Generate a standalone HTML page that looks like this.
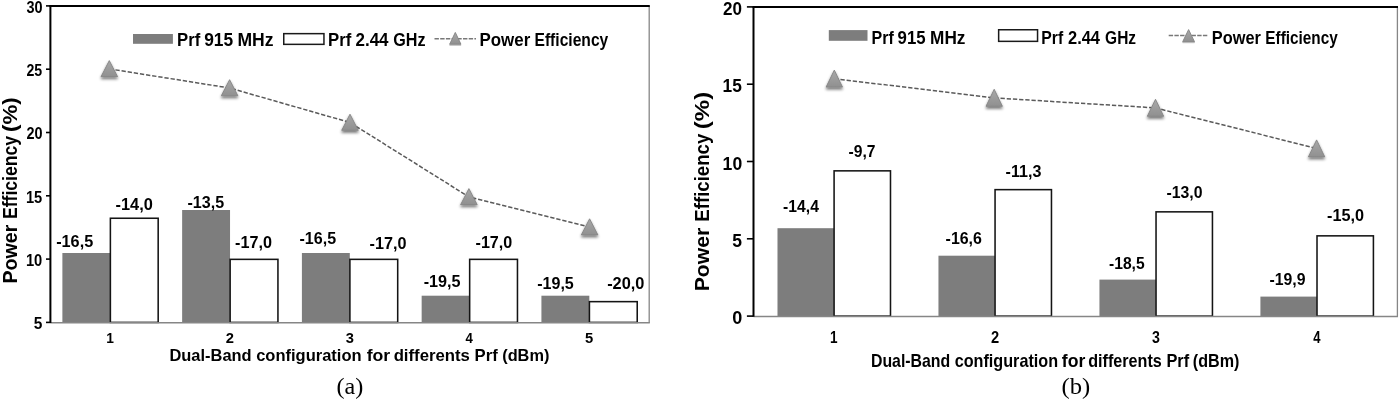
<!DOCTYPE html>
<html><head><meta charset="utf-8"><title>Power Efficiency</title>
<style>html,body{margin:0;padding:0;background:#fff;}body{width:1400px;height:400px;overflow:hidden;font-family:"Liberation Sans",sans-serif;}svg{display:block;will-change:transform;}text{fill:#000;}</style>
</head><body>
<svg width="1400" height="400" viewBox="0 0 1400 400">
<defs>
<linearGradient id="tg" x1="0" y1="0" x2="0" y2="1"><stop offset="0" stop-color="#a8a8a8"/><stop offset="1" stop-color="#909090"/></linearGradient>
<filter id="sh" x="-40%" y="-40%" width="180%" height="200%"><feGaussianBlur in="SourceAlpha" stdDeviation="1.4"/><feOffset dx="0" dy="2.2" result="o"/><feComponentTransfer><feFuncA type="linear" slope="0.55"/></feComponentTransfer><feMerge><feMergeNode/><feMergeNode in="SourceGraphic"/></feMerge></filter>
<filter id="shs" x="-40%" y="-40%" width="180%" height="200%"><feGaussianBlur in="SourceAlpha" stdDeviation="0.6"/><feOffset dx="0" dy="0.8" result="o"/><feComponentTransfer><feFuncA type="linear" slope="0.3"/></feComponentTransfer><feMerge><feMergeNode/><feMergeNode in="SourceGraphic"/></feMerge></filter>
</defs>
<rect x="0" y="0" width="1400" height="400" fill="#fff"/>
<g id="chart-a">
<line x1="649.2" y1="5.9" x2="649.2" y2="323.0" stroke="#868686" stroke-width="1.3"/>
<rect x="62.38" y="253.00" width="47.90" height="69.40" fill="#7d7d7d"/>
<rect x="110.38" y="218.25" width="47.80" height="104.15" fill="#fff" stroke="#141414" stroke-width="1.55"/>
<rect x="182.14" y="210.00" width="47.90" height="112.40" fill="#7d7d7d"/>
<rect x="230.14" y="259.35" width="47.80" height="63.05" fill="#fff" stroke="#141414" stroke-width="1.55"/>
<rect x="301.90" y="253.00" width="47.90" height="69.40" fill="#7d7d7d"/>
<rect x="349.90" y="259.35" width="47.80" height="63.05" fill="#fff" stroke="#141414" stroke-width="1.55"/>
<rect x="421.66" y="295.70" width="47.90" height="26.70" fill="#7d7d7d"/>
<rect x="469.66" y="259.35" width="47.80" height="63.05" fill="#fff" stroke="#141414" stroke-width="1.55"/>
<rect x="541.42" y="295.70" width="47.90" height="26.70" fill="#7d7d7d"/>
<rect x="589.42" y="301.65" width="47.80" height="20.75" fill="#fff" stroke="#141414" stroke-width="1.55"/>
<line x1="50.4" y1="322.7" x2="649.8000000000001" y2="322.7" stroke="#868686" stroke-width="1.5"/>
<line x1="49.5" y1="5.9" x2="649.8000000000001" y2="5.9" stroke="#000" stroke-width="2"/>
<line x1="50.4" y1="5.9" x2="50.4" y2="323.0" stroke="#000" stroke-width="2"/>
<line x1="46.0" y1="5.90" x2="50.4" y2="5.90" stroke="#000" stroke-width="1.6"/>
<line x1="46.0" y1="69.20" x2="50.4" y2="69.20" stroke="#000" stroke-width="1.6"/>
<line x1="46.0" y1="132.50" x2="50.4" y2="132.50" stroke="#000" stroke-width="1.6"/>
<line x1="46.0" y1="195.80" x2="50.4" y2="195.80" stroke="#000" stroke-width="1.6"/>
<line x1="46.0" y1="259.10" x2="50.4" y2="259.10" stroke="#000" stroke-width="1.6"/>
<line x1="46.0" y1="322.40" x2="50.4" y2="322.40" stroke="#000" stroke-width="1.6"/>
<polyline points="109.30,68.90 229.60,88.00 350.00,122.50 468.90,196.90 589.60,227.10" fill="none" stroke="#5a5a5a" stroke-width="1.5" stroke-dasharray="4.3 1.9"/>
<polygon points="109.3,60.6 117.6,76.7 101.0,76.7" fill="url(#tg)" stroke="#858585" stroke-width="0.9" stroke-linejoin="round" filter="url(#sh)"/>
<polygon points="229.6,79.7 237.9,95.8 221.29999999999998,95.8" fill="url(#tg)" stroke="#858585" stroke-width="0.9" stroke-linejoin="round" filter="url(#sh)"/>
<polygon points="350.0,114.2 358.3,130.3 341.7,130.3" fill="url(#tg)" stroke="#858585" stroke-width="0.9" stroke-linejoin="round" filter="url(#sh)"/>
<polygon points="468.9,188.6 477.2,204.7 460.59999999999997,204.7" fill="url(#tg)" stroke="#858585" stroke-width="0.9" stroke-linejoin="round" filter="url(#sh)"/>
<polygon points="589.6,218.8 597.9,234.9 581.3000000000001,234.9" fill="url(#tg)" stroke="#858585" stroke-width="0.9" stroke-linejoin="round" filter="url(#sh)"/>
<rect x="133" y="34" width="39.90" height="9.80" fill="#7d7d7d"/>
<rect x="283.75" y="33.65" width="40.20" height="10.70" fill="#fff" stroke="#1a1a1a" stroke-width="1.5"/>
<line x1="434.5" y1="38.7" x2="476" y2="38.7" stroke="#787878" stroke-width="1.4" stroke-dasharray="4.4 1.3"/>
<polygon points="455.3,32.4 460.95,44.2 449.65000000000003,44.2" fill="url(#tg)" stroke="#858585" stroke-width="0.9" stroke-linejoin="round" filter="url(#shs)"/>
<text x="177.05" y="46.4" font-size="17.7" font-weight="bold" font-family='"Liberation Sans", sans-serif' textLength="23.2" lengthAdjust="spacingAndGlyphs">Prf</text>
<text x="204.15" y="46.4" font-size="17.7" font-weight="bold" font-family='"Liberation Sans", sans-serif' textLength="29.0" lengthAdjust="spacingAndGlyphs">915</text>
<text x="237.5" y="46.4" font-size="17.7" font-weight="bold" font-family='"Liberation Sans", sans-serif' textLength="36.07" lengthAdjust="spacingAndGlyphs">MHz</text>
<text x="328.0" y="46.4" font-size="17.7" font-weight="bold" font-family='"Liberation Sans", sans-serif' textLength="23.28" lengthAdjust="spacingAndGlyphs">Prf</text>
<text x="355.5" y="46.4" font-size="17.7" font-weight="bold" font-family='"Liberation Sans", sans-serif' textLength="33.01" lengthAdjust="spacingAndGlyphs">2.44</text>
<text x="393.25" y="46.4" font-size="17.7" font-weight="bold" font-family='"Liberation Sans", sans-serif' textLength="32.29" lengthAdjust="spacingAndGlyphs">GHz</text>
<text x="479.5" y="46.4" font-size="17.7" font-weight="bold" font-family='"Liberation Sans", sans-serif' textLength="50.78" lengthAdjust="spacingAndGlyphs">Power</text>
<text x="534.5" y="46.4" font-size="17.7" font-weight="bold" font-family='"Liberation Sans", sans-serif' textLength="73.77" lengthAdjust="spacingAndGlyphs">Efficiency</text>
<text x="169.4" y="360.8" font-size="16.7" font-weight="bold" font-family='"Liberation Sans", sans-serif' textLength="82.25" lengthAdjust="spacingAndGlyphs">Dual-Band</text>
<text x="256.2" y="360.8" font-size="16.7" font-weight="bold" font-family='"Liberation Sans", sans-serif' textLength="105.42" lengthAdjust="spacingAndGlyphs">configuration</text>
<text x="366.7" y="360.8" font-size="16.7" font-weight="bold" font-family='"Liberation Sans", sans-serif' textLength="23.56" lengthAdjust="spacingAndGlyphs">for</text>
<text x="393.65" y="360.8" font-size="16.7" font-weight="bold" font-family='"Liberation Sans", sans-serif' textLength="76.28" lengthAdjust="spacingAndGlyphs">differents</text>
<text x="474.6" y="360.8" font-size="16.7" font-weight="bold" font-family='"Liberation Sans", sans-serif' textLength="23.16" lengthAdjust="spacingAndGlyphs">Prf</text>
<text x="502.2" y="360.8" font-size="16.7" font-weight="bold" font-family='"Liberation Sans", sans-serif' textLength="47.17" lengthAdjust="spacingAndGlyphs">(dBm)</text>
<text transform="translate(17.25,283.6) rotate(-90)" font-size="20.1" font-weight="bold" font-family='"Liberation Sans", sans-serif' textLength="58.89" lengthAdjust="spacingAndGlyphs">Power</text>
<text transform="translate(17.25,219.0) rotate(-90)" font-size="20.1" font-weight="bold" font-family='"Liberation Sans", sans-serif' textLength="82.92" lengthAdjust="spacingAndGlyphs">Efficiency</text>
<text transform="translate(17.25,132.0) rotate(-90)" font-size="20.1" font-weight="bold" font-family='"Liberation Sans", sans-serif' textLength="34.63" lengthAdjust="spacingAndGlyphs">(%)</text>
<text x="336.5" y="393.5" font-size="23.3" font-weight="normal" font-family='"Liberation Serif", serif' textLength="26.87" lengthAdjust="spacingAndGlyphs">(a)</text>
<text x="56.15" y="246.7" font-size="16.4" font-weight="bold" font-family='"Liberation Sans", sans-serif' textLength="37.04" lengthAdjust="spacingAndGlyphs">-16,5</text>
<text x="115.55" y="210.1" font-size="16.4" font-weight="bold" font-family='"Liberation Sans", sans-serif' textLength="37.3" lengthAdjust="spacingAndGlyphs">-14,0</text>
<text x="187.5" y="208.3" font-size="16.4" font-weight="bold" font-family='"Liberation Sans", sans-serif' textLength="36.68" lengthAdjust="spacingAndGlyphs">-13,5</text>
<text x="235.1" y="247.9" font-size="16.4" font-weight="bold" font-family='"Liberation Sans", sans-serif' textLength="36.94" lengthAdjust="spacingAndGlyphs">-17,0</text>
<text x="299.5" y="244.1" font-size="16.4" font-weight="bold" font-family='"Liberation Sans", sans-serif' textLength="36.58" lengthAdjust="spacingAndGlyphs">-16,5</text>
<text x="369.5" y="249.1" font-size="16.4" font-weight="bold" font-family='"Liberation Sans", sans-serif' textLength="36.93" lengthAdjust="spacingAndGlyphs">-17,0</text>
<text x="423.7" y="287.1" font-size="16.4" font-weight="bold" font-family='"Liberation Sans", sans-serif' textLength="36.93" lengthAdjust="spacingAndGlyphs">-19,5</text>
<text x="475.5" y="247.8" font-size="16.4" font-weight="bold" font-family='"Liberation Sans", sans-serif' textLength="36.83" lengthAdjust="spacingAndGlyphs">-17,0</text>
<text x="537.15" y="288.8" font-size="16.4" font-weight="bold" font-family='"Liberation Sans", sans-serif' textLength="36.65" lengthAdjust="spacingAndGlyphs">-19,5</text>
<text x="607.15" y="288.8" font-size="16.4" font-weight="bold" font-family='"Liberation Sans", sans-serif' textLength="37.34" lengthAdjust="spacingAndGlyphs">-20,0</text>
<text x="26.4" y="12.9" font-size="15.6" font-weight="bold" font-family='"Liberation Sans", sans-serif' textLength="16.1" lengthAdjust="spacingAndGlyphs">30</text>
<text x="26.4" y="76.1" font-size="15.6" font-weight="bold" font-family='"Liberation Sans", sans-serif' textLength="15.8" lengthAdjust="spacingAndGlyphs">25</text>
<text x="26.4" y="139.4" font-size="15.6" font-weight="bold" font-family='"Liberation Sans", sans-serif' textLength="16.09" lengthAdjust="spacingAndGlyphs">20</text>
<text x="25.9" y="202.8" font-size="15.6" font-weight="bold" font-family='"Liberation Sans", sans-serif' textLength="16.35" lengthAdjust="spacingAndGlyphs">15</text>
<text x="25.9" y="266.1" font-size="15.6" font-weight="bold" font-family='"Liberation Sans", sans-serif' textLength="16.39" lengthAdjust="spacingAndGlyphs">10</text>
<text x="33.7" y="329.4" font-size="15.6" font-weight="bold" font-family='"Liberation Sans", sans-serif' textLength="8.62" lengthAdjust="spacingAndGlyphs">5</text>
<text x="106.25" y="342.9" font-size="15.4" font-weight="bold" font-family='"Liberation Sans", sans-serif' textLength="7.66" lengthAdjust="spacingAndGlyphs">1</text>
<text x="225.8" y="342.9" font-size="15.4" font-weight="bold" font-family='"Liberation Sans", sans-serif' textLength="8.2" lengthAdjust="spacingAndGlyphs">2</text>
<text x="345.7" y="342.9" font-size="15.4" font-weight="bold" font-family='"Liberation Sans", sans-serif' textLength="8.19" lengthAdjust="spacingAndGlyphs">3</text>
<text x="465.5" y="342.9" font-size="15.4" font-weight="bold" font-family='"Liberation Sans", sans-serif' textLength="7.34" lengthAdjust="spacingAndGlyphs">4</text>
<text x="584.95" y="342.9" font-size="15.4" font-weight="bold" font-family='"Liberation Sans", sans-serif' textLength="8.24" lengthAdjust="spacingAndGlyphs">5</text>
</g>
<g id="chart-b">
<line x1="1397.4" y1="6.9" x2="1397.4" y2="316.70000000000005" stroke="#868686" stroke-width="1.3"/>
<rect x="777.49" y="228.20" width="56.50" height="87.90" fill="#7d7d7d"/>
<rect x="834.09" y="170.85" width="56.40" height="145.25" fill="#fff" stroke="#141414" stroke-width="1.55"/>
<rect x="938.46" y="255.70" width="56.50" height="60.40" fill="#7d7d7d"/>
<rect x="995.06" y="189.65" width="56.40" height="126.45" fill="#fff" stroke="#141414" stroke-width="1.55"/>
<rect x="1099.44" y="279.60" width="56.50" height="36.50" fill="#7d7d7d"/>
<rect x="1156.04" y="211.85" width="56.40" height="104.25" fill="#fff" stroke="#141414" stroke-width="1.55"/>
<rect x="1260.41" y="296.60" width="56.50" height="19.50" fill="#7d7d7d"/>
<rect x="1317.01" y="235.85" width="56.40" height="80.25" fill="#fff" stroke="#141414" stroke-width="1.55"/>
<line x1="753.5" y1="316.40000000000003" x2="1398.0" y2="316.40000000000003" stroke="#868686" stroke-width="1.5"/>
<line x1="752.6" y1="6.9" x2="1398.0" y2="6.9" stroke="#000" stroke-width="2"/>
<line x1="753.5" y1="6.9" x2="753.5" y2="316.70000000000005" stroke="#000" stroke-width="2"/>
<line x1="746.9" y1="6.90" x2="753.5" y2="6.90" stroke="#000" stroke-width="1.6"/>
<line x1="746.9" y1="84.20" x2="753.5" y2="84.20" stroke="#000" stroke-width="1.6"/>
<line x1="746.9" y1="161.50" x2="753.5" y2="161.50" stroke="#000" stroke-width="1.6"/>
<line x1="746.9" y1="238.80" x2="753.5" y2="238.80" stroke="#000" stroke-width="1.6"/>
<line x1="746.9" y1="316.10" x2="753.5" y2="316.10" stroke="#000" stroke-width="1.6"/>
<polyline points="834.30,78.70 994.20,97.90 1155.50,107.90 1316.60,148.50" fill="none" stroke="#5a5a5a" stroke-width="1.5" stroke-dasharray="4.3 1.9"/>
<polygon points="834.3,70.1 842.5,87.1 826.0999999999999,87.1" fill="url(#tg)" stroke="#858585" stroke-width="0.9" stroke-linejoin="round" filter="url(#sh)"/>
<polygon points="994.2,89.3 1002.4000000000001,106.3 986.0,106.3" fill="url(#tg)" stroke="#858585" stroke-width="0.9" stroke-linejoin="round" filter="url(#sh)"/>
<polygon points="1155.5,99.3 1163.7,116.3 1147.3,116.3" fill="url(#tg)" stroke="#858585" stroke-width="0.9" stroke-linejoin="round" filter="url(#sh)"/>
<polygon points="1316.6,139.9 1324.8,156.9 1308.3999999999999,156.9" fill="url(#tg)" stroke="#858585" stroke-width="0.9" stroke-linejoin="round" filter="url(#sh)"/>
<rect x="828.8" y="30.1" width="38.70" height="10.70" fill="#7d7d7d"/>
<rect x="998.65" y="29.75" width="38.90" height="11.60" fill="#fff" stroke="#1a1a1a" stroke-width="1.5"/>
<line x1="1168.7" y1="35.5" x2="1208.5" y2="35.5" stroke="#787878" stroke-width="1.4" stroke-dasharray="4.4 1.3"/>
<polygon points="1188.6,29.6 1194.5,41.7 1182.6999999999998,41.7" fill="url(#tg)" stroke="#858585" stroke-width="0.9" stroke-linejoin="round" filter="url(#shs)"/>
<text x="871.5" y="43.7" font-size="19" font-weight="bold" font-family='"Liberation Sans", sans-serif' textLength="22.24" lengthAdjust="spacingAndGlyphs">Prf</text>
<text x="897.6" y="43.7" font-size="19" font-weight="bold" font-family='"Liberation Sans", sans-serif' textLength="28.04" lengthAdjust="spacingAndGlyphs">915</text>
<text x="930.1" y="43.7" font-size="19" font-weight="bold" font-family='"Liberation Sans", sans-serif' textLength="35.38" lengthAdjust="spacingAndGlyphs">MHz</text>
<text x="1041.35" y="43.7" font-size="19" font-weight="bold" font-family='"Liberation Sans", sans-serif' textLength="21.9" lengthAdjust="spacingAndGlyphs">Prf</text>
<text x="1068.0" y="43.7" font-size="19" font-weight="bold" font-family='"Liberation Sans", sans-serif' textLength="32.01" lengthAdjust="spacingAndGlyphs">2.44</text>
<text x="1105.1" y="43.7" font-size="19" font-weight="bold" font-family='"Liberation Sans", sans-serif' textLength="30.96" lengthAdjust="spacingAndGlyphs">GHz</text>
<text x="1211.85" y="43.7" font-size="19" font-weight="bold" font-family='"Liberation Sans", sans-serif' textLength="49.02" lengthAdjust="spacingAndGlyphs">Power</text>
<text x="1265.35" y="43.7" font-size="19" font-weight="bold" font-family='"Liberation Sans", sans-serif' textLength="72.42" lengthAdjust="spacingAndGlyphs">Efficiency</text>
<text x="870.95" y="366.75" font-size="18.1" font-weight="bold" font-family='"Liberation Sans", sans-serif' textLength="79.25" lengthAdjust="spacingAndGlyphs">Dual-Band</text>
<text x="954.65" y="366.75" font-size="18.1" font-weight="bold" font-family='"Liberation Sans", sans-serif' textLength="103.42" lengthAdjust="spacingAndGlyphs">configuration</text>
<text x="1061.8" y="366.75" font-size="18.1" font-weight="bold" font-family='"Liberation Sans", sans-serif' textLength="23.48" lengthAdjust="spacingAndGlyphs">for</text>
<text x="1088.2" y="366.75" font-size="18.1" font-weight="bold" font-family='"Liberation Sans", sans-serif' textLength="73.62" lengthAdjust="spacingAndGlyphs">differents</text>
<text x="1166.45" y="366.75" font-size="18.1" font-weight="bold" font-family='"Liberation Sans", sans-serif' textLength="22.73" lengthAdjust="spacingAndGlyphs">Prf</text>
<text x="1192.8" y="366.75" font-size="18.1" font-weight="bold" font-family='"Liberation Sans", sans-serif' textLength="46.55" lengthAdjust="spacingAndGlyphs">(dBm)</text>
<text transform="translate(709.1,291.25) rotate(-90)" font-size="20.1" font-weight="bold" font-family='"Liberation Sans", sans-serif' textLength="63.54" lengthAdjust="spacingAndGlyphs">Power</text>
<text transform="translate(709.1,221.65) rotate(-90)" font-size="20.1" font-weight="bold" font-family='"Liberation Sans", sans-serif' textLength="87.92" lengthAdjust="spacingAndGlyphs">Efficiency</text>
<text transform="translate(709.1,129.25) rotate(-90)" font-size="20.1" font-weight="bold" font-family='"Liberation Sans", sans-serif' textLength="37.39" lengthAdjust="spacingAndGlyphs">(%)</text>
<text x="1061.6" y="393.7" font-size="23.3" font-weight="normal" font-family='"Liberation Serif", serif' textLength="28.67" lengthAdjust="spacingAndGlyphs">(b)</text>
<text x="783.1" y="212.1" font-size="17.4" font-weight="bold" font-family='"Liberation Sans", sans-serif' textLength="35.78" lengthAdjust="spacingAndGlyphs">-14,4</text>
<text x="848.6" y="157.3" font-size="17.4" font-weight="bold" font-family='"Liberation Sans", sans-serif' textLength="26.97" lengthAdjust="spacingAndGlyphs">-9,7</text>
<text x="945.6" y="243.5" font-size="17.4" font-weight="bold" font-family='"Liberation Sans", sans-serif' textLength="36.3" lengthAdjust="spacingAndGlyphs">-16,6</text>
<text x="1005.6" y="177.2" font-size="17.4" font-weight="bold" font-family='"Liberation Sans", sans-serif' textLength="35.83" lengthAdjust="spacingAndGlyphs">-11,3</text>
<text x="1109.0" y="269.3" font-size="17.4" font-weight="bold" font-family='"Liberation Sans", sans-serif' textLength="35.67" lengthAdjust="spacingAndGlyphs">-18,5</text>
<text x="1166.5" y="198.2" font-size="17.4" font-weight="bold" font-family='"Liberation Sans", sans-serif' textLength="36.03" lengthAdjust="spacingAndGlyphs">-13,0</text>
<text x="1269.5" y="284.7" font-size="17.4" font-weight="bold" font-family='"Liberation Sans", sans-serif' textLength="36.03" lengthAdjust="spacingAndGlyphs">-19,9</text>
<text x="1327.0" y="221.2" font-size="17.4" font-weight="bold" font-family='"Liberation Sans", sans-serif' textLength="37.04" lengthAdjust="spacingAndGlyphs">-15,0</text>
<text x="723.1" y="14.8" font-size="19" font-weight="bold" font-family='"Liberation Sans", sans-serif' textLength="18.99" lengthAdjust="spacingAndGlyphs">20</text>
<text x="722.6" y="92.0" font-size="19" font-weight="bold" font-family='"Liberation Sans", sans-serif' textLength="19.3" lengthAdjust="spacingAndGlyphs">15</text>
<text x="722.6" y="169.5" font-size="19" font-weight="bold" font-family='"Liberation Sans", sans-serif' textLength="19.57" lengthAdjust="spacingAndGlyphs">10</text>
<text x="732.15" y="246.7" font-size="19" font-weight="bold" font-family='"Liberation Sans", sans-serif' textLength="9.76" lengthAdjust="spacingAndGlyphs">5</text>
<text x="732.15" y="324.0" font-size="19" font-weight="bold" font-family='"Liberation Sans", sans-serif' textLength="10.05" lengthAdjust="spacingAndGlyphs">0</text>
<text x="830.0" y="342.9" font-size="16.2" font-weight="bold" font-family='"Liberation Sans", sans-serif' textLength="7.57" lengthAdjust="spacingAndGlyphs">1</text>
<text x="991.0" y="342.9" font-size="16.2" font-weight="bold" font-family='"Liberation Sans", sans-serif' textLength="8.17" lengthAdjust="spacingAndGlyphs">2</text>
<text x="1152.0" y="342.9" font-size="16.2" font-weight="bold" font-family='"Liberation Sans", sans-serif' textLength="7.9" lengthAdjust="spacingAndGlyphs">3</text>
<text x="1313.25" y="342.9" font-size="16.2" font-weight="bold" font-family='"Liberation Sans", sans-serif' textLength="7.26" lengthAdjust="spacingAndGlyphs">4</text>
</g>
</svg>
</body></html>
